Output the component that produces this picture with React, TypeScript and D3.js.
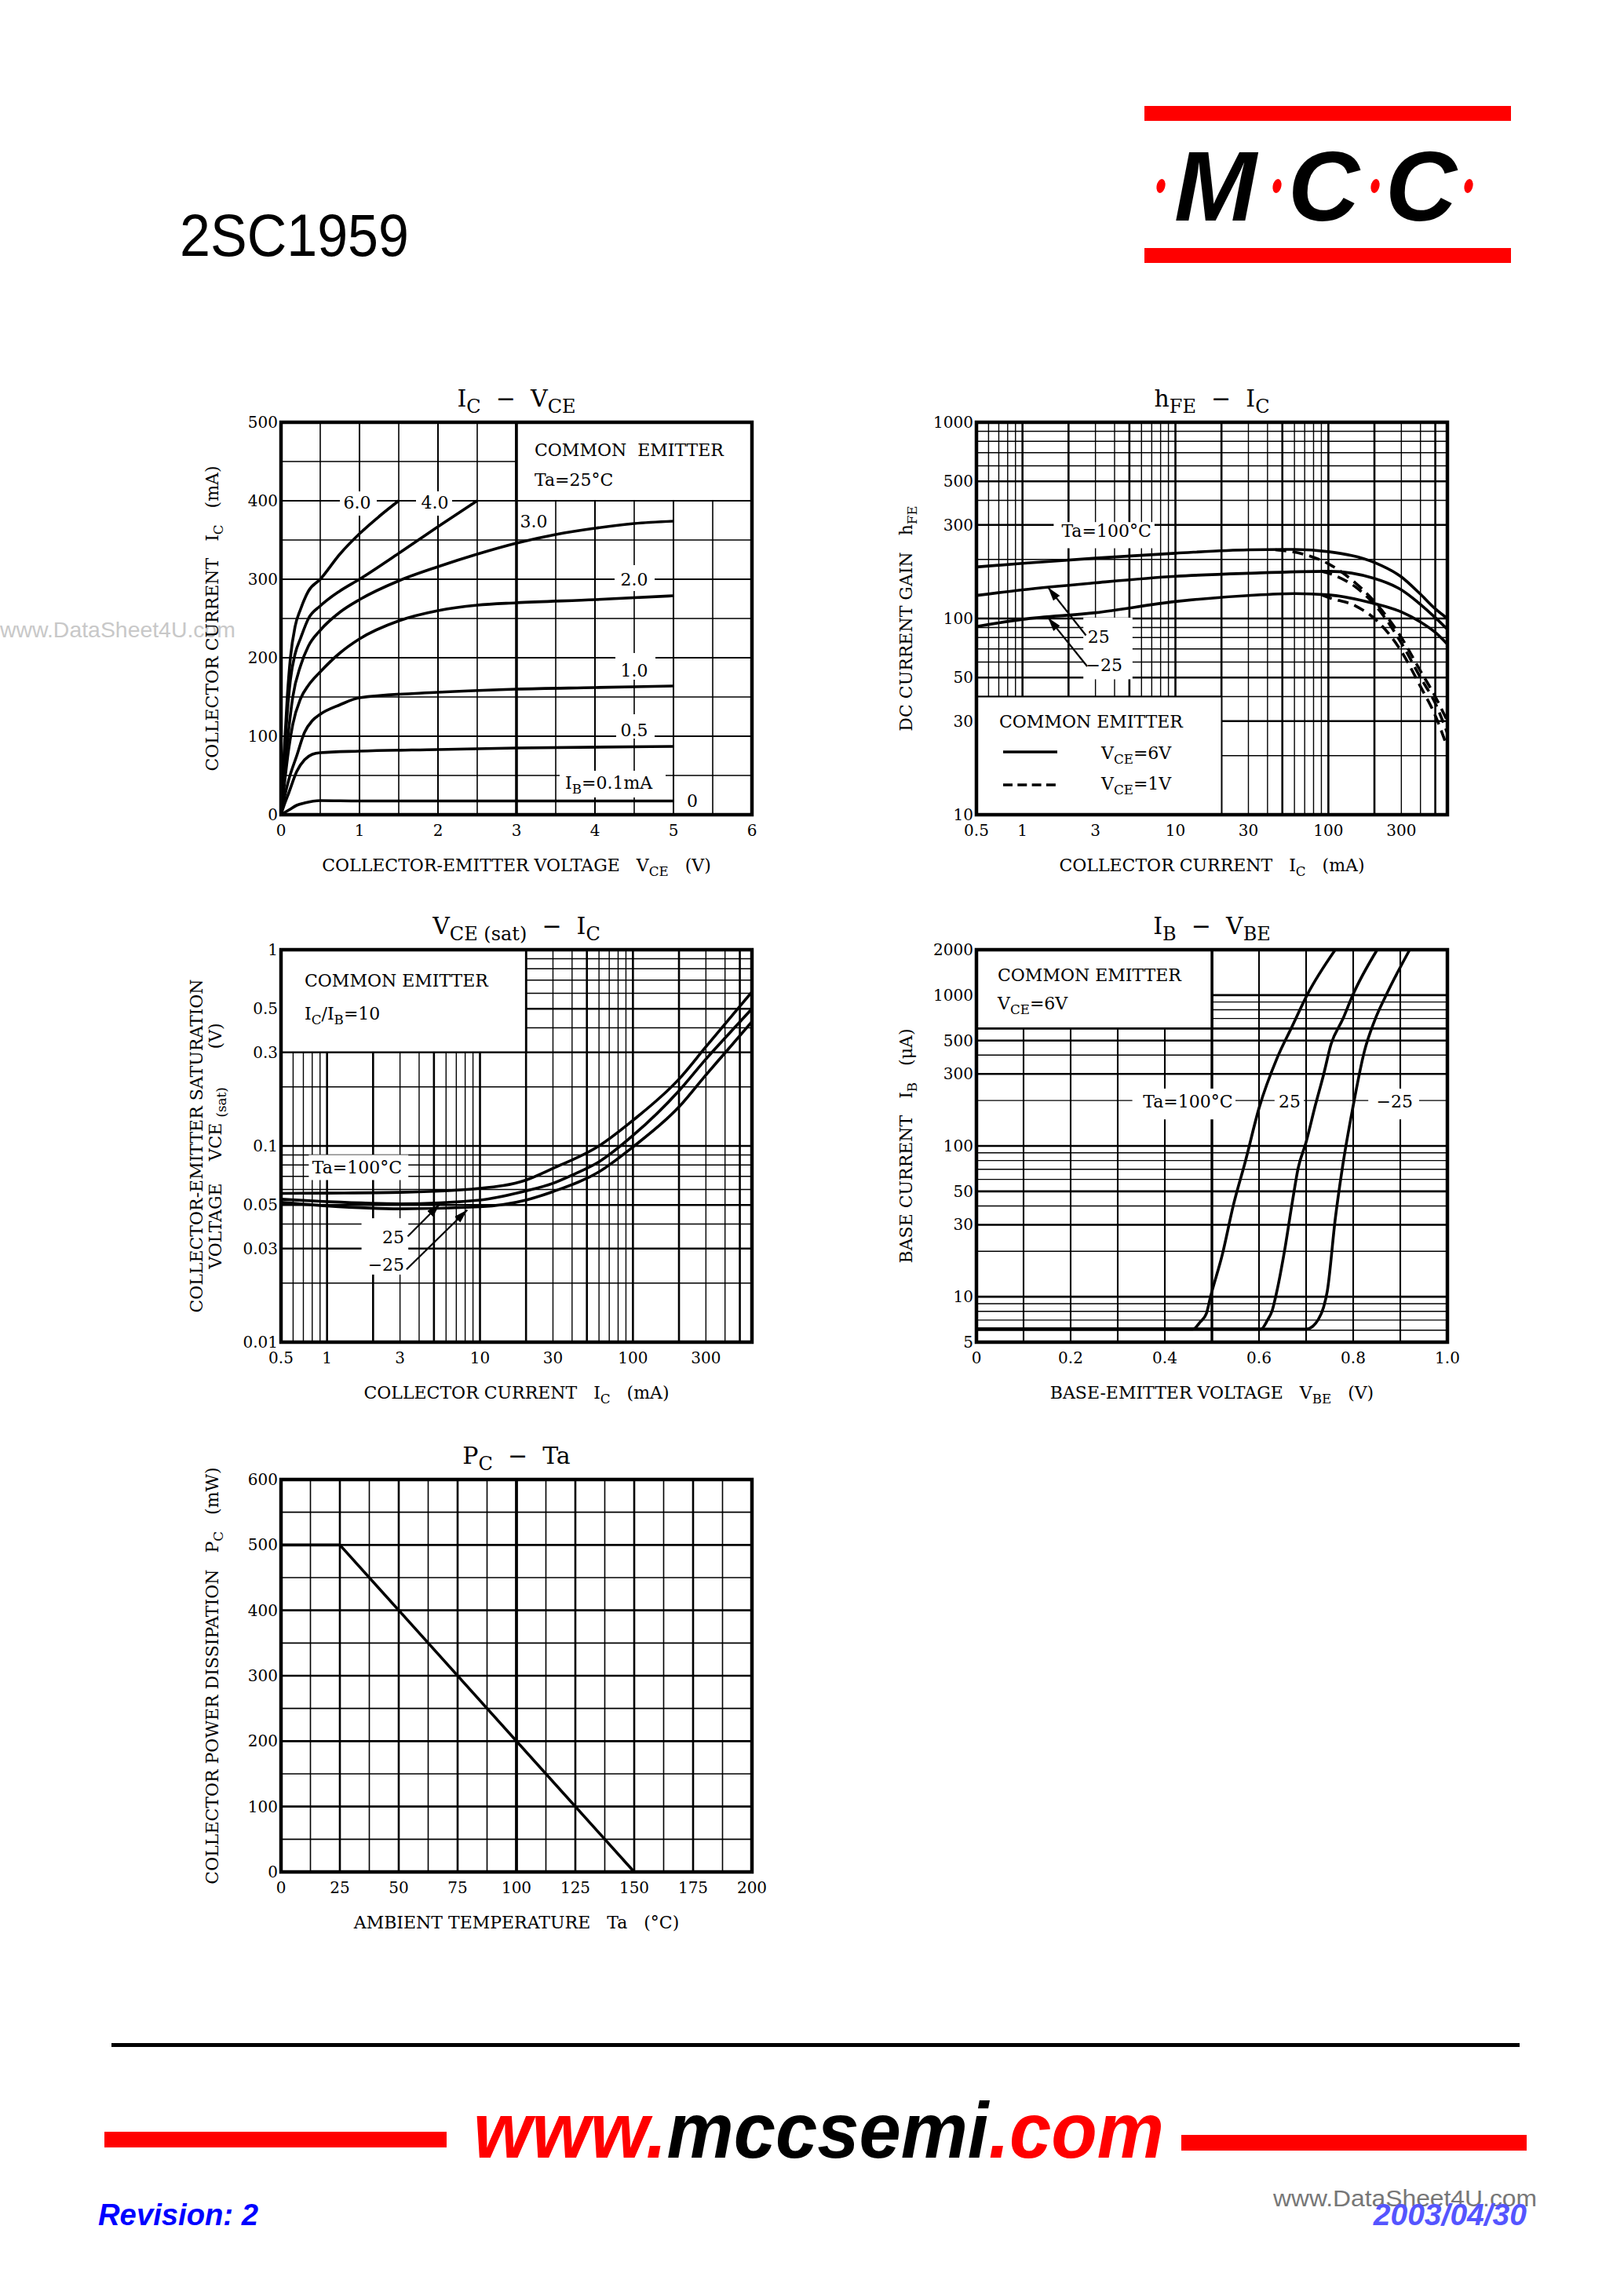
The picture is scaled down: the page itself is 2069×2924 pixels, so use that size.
import React from "react";
import * as d3 from "d3";

type Pt = [number, number];
type Seg = [string, boolean?];
type Line = { v: number; sw: number };
type Rect = { x: [number, number]; y: [number, number] };
type Edge = { x1: number; y1: number; x2: number; y2: number; sw: number };
type Note = { x: number; y: number; parts: Seg[]; anchor?: string };
type Arrow = { from: Pt; to: Pt };

const SERIF = "'DejaVu Serif', 'Liberation Serif', serif";
const SANS = "'Liberation Sans', Arial, sans-serif";
const PW = 600;
const PH = 500;

// ---------- IC - VCE (Ta = 25°C), one curve per IB ----------
const ic6_0: Pt[] = [[0, 0], [0.04, 80], [0.08, 150], [0.12, 200], [0.18, 240], [0.25, 262], [0.35, 285], [0.5, 300], [0.75, 332], [1, 358], [1.25, 380], [1.5, 400]];
const ic4_0: Pt[] = [[0, 0], [0.04, 70], [0.08, 130], [0.12, 172], [0.18, 205], [0.25, 225], [0.35, 250], [0.5, 266], [0.75, 285], [1, 300], [1.5, 333], [2, 367], [2.5, 400]];
const ic3_0: Pt[] = [[0, 0], [0.05, 60], [0.1, 110], [0.15, 150], [0.25, 190], [0.35, 215], [0.5, 235], [0.75, 258], [1, 274], [1.5, 298], [2, 316], [2.5, 332], [3, 346], [3.5, 357], [4, 365], [4.5, 371], [5, 374]];
const ic2_0: Pt[] = [[0, 0], [0.05, 45], [0.1, 85], [0.15, 115], [0.25, 148], [0.35, 165], [0.5, 182], [0.75, 206], [1, 224], [1.5, 247], [2, 260], [2.5, 267], [3, 270], [4, 274], [5, 279]];
const ic1_0: Pt[] = [[0, 0], [0.05, 25], [0.1, 45], [0.2, 75], [0.3, 105], [0.4, 120], [0.5, 128], [0.75, 140], [1, 149], [2, 156], [3, 160], [4, 162], [5, 164]];
const ic0_5: Pt[] = [[0, 0], [0.05, 15], [0.1, 28], [0.2, 55], [0.3, 70], [0.4, 77], [0.5, 79], [1, 81], [2, 83], [3, 85], [5, 87]];
const ic0_1: Pt[] = [[0, 0], [0.1, 6], [0.2, 12], [0.3, 15], [0.5, 18], [1, 17.5], [5, 17.5]];
const icVceCurves = [ic6_0, ic4_0, ic3_0, ic2_0, ic1_0, ic0_5, ic0_1];
const vceTicks = [0, 1, 2, 3, 4, 5, 6];
const icTicks = [0, 100, 200, 300, 400, 500];

// ---------- hFE - IC ----------
const hfe100_6V: Pt[] = [[0.5, 183], [1, 191], [3, 203], [10, 215], [30, 224], [60, 225], [100, 219], [200, 193], [300, 163], [400, 133], [500, 112], [600, 100]];
const hfe25_6V: Pt[] = [[0.5, 131], [1, 140], [3, 152], [10, 164], [30, 170], [100, 174], [200, 160], [300, 140], [400, 118], [500, 101], [600, 88]];
const hfeM25_6V: Pt[] = [[0.5, 91], [1, 99], [3, 107], [10, 122], [30, 131], [60, 134], [100, 132], [200, 119], [300, 108], [400, 96], [500, 85], [600, 74]];
const hfe100_1V: Pt[] = [[45, 224], [70, 212], [100, 190], [150, 152], [200, 122], [300, 80], [400, 54], [500, 40], [600, 30]];
const hfe25_1V: Pt[] = [[90, 174], [100, 170], [150, 145], [200, 118], [300, 75], [400, 50], [500, 37], [600, 26]];
const hfeM25_1V: Pt[] = [[90, 132], [100, 128], [150, 116], [200, 100], [300, 68], [400, 45], [500, 32], [600, 22]];
const icLogTicks = [0.5, 1, 3, 10, 30, 100, 300];
const hfeTicks = [10, 30, 50, 100, 300, 500, 1000];

// ---------- VCE(sat) - IC ----------
const sat100: Pt[] = [[0.5, 0.0573], [1, 0.0575], [3, 0.058], [10, 0.0608], [20, 0.067], [30, 0.0768], [60, 0.1], [100, 0.135], [200, 0.219], [300, 0.32], [400, 0.418], [600, 0.61]];
const sat25: Pt[] = [[0.5, 0.0535], [1, 0.052], [3, 0.0507], [10, 0.053], [20, 0.059], [30, 0.0645], [40, 0.071], [60, 0.083], [100, 0.113], [200, 0.191], [300, 0.277], [400, 0.355], [600, 0.5]];
const satM25: Pt[] = [[0.5, 0.0516], [1, 0.0495], [3, 0.0478], [10, 0.049], [20, 0.053], [30, 0.0585], [60, 0.0738], [100, 0.0988], [200, 0.158], [300, 0.23], [400, 0.298], [600, 0.43]];
const satTicks = [0.01, 0.03, 0.05, 0.1, 0.3, 0.5, 1];

// ---------- IB - VBE ----------
const ib100: Pt[] = [[0, 6.1], [0.46, 6.1], [0.475, 6.8], [0.488, 7.7], [0.497, 10], [0.522, 19], [0.546, 41], [0.571, 79], [0.6, 178], [0.638, 380], [0.67, 617], [0.702, 1000], [0.762, 2000]];
const ib25: Pt[] = [[0, 6.1], [0.604, 6.1], [0.618, 7], [0.628, 8.1], [0.638, 10.9], [0.654, 20], [0.671, 43], [0.683, 71], [0.7, 106], [0.72, 188], [0.737, 296], [0.753, 473], [0.778, 694], [0.799, 1000], [0.851, 2000]];
const ibM25: Pt[] = [[0, 6.1], [0.7, 6.1], [0.715, 6.4], [0.725, 7], [0.737, 8.5], [0.745, 10.9], [0.762, 33], [0.778, 75], [0.799, 178], [0.824, 427], [0.845, 672], [0.87, 1000], [0.92, 2000]];
const vbeTicks = [0, 0.2, 0.4, 0.6, 0.8, 1.0];
const ibTicks = [5, 10, 30, 50, 100, 300, 500, 1000, 2000];

// ---------- PC - Ta ----------
const pcDerating: Pt[] = [[0, 500], [25, 500], [150, 0]];
const taTicks = [0, 25, 50, 75, 100, 125, 150, 175, 200];
const pcTicks = [0, 100, 200, 300, 400, 500, 600];

// ---------- helpers ----------
function rich(parts: Seg[], size: number, ratio = 0.76) {
  let shift = 0;
  return parts.map(([t, sub], i) => {
    const target = sub ? size * 0.28 : 0;
    const dy = target - shift;
    shift = target;
    return (
      <tspan key={i} dy={dy} fontSize={sub ? size * ratio : size}>
        {t}
      </tspan>
    );
  });
}

function logLines(lo: number, hi: number, thick: number[]): Line[] {
  const out: Line[] = [];
  for (let e = Math.floor(Math.log10(lo)); e <= Math.ceil(Math.log10(hi)); e++) {
    for (let m = 1; m <= 9; m++) {
      const v = +(m * Math.pow(10, e)).toPrecision(6);
      if (v > lo * 1.0001 && v < hi * 0.9999) out.push({ v, sw: thick.includes(m) ? 2.6 : 1.4 });
    }
  }
  return out;
}

function toRect(xs: any, ys: any, r: Rect) {
  const xa = xs(r.x[0]), xb = xs(r.x[1]), ya = ys(r.y[0]), yb = ys(r.y[1]);
  return { x: Math.min(xa, xb), y: Math.min(ya, yb), width: Math.abs(xb - xa), height: Math.abs(yb - ya) };
}

function fmt(v: number) {
  return String(v);
}

type PlotProps = {
  x0: number;
  y0: number;
  xs: any;
  ys: any;
  xLines: Line[];
  yLines: Line[];
  boxes: Rect[];
  edges: Edge[];
  knock: Rect[];
  xTicks: number[];
  yTicks: number[];
  xLabel?: (v: number) => string;
  title: Seg[];
  xTitle: Seg[];
  yTitle: Seg[][];
  yTitleX: number[];
  notes: Note[];
  arrows?: Arrow[];
  children?: React.ReactNode;
};

function Plot(p: PlotProps) {
  const { xs, ys } = p;
  const xl = p.xLabel || fmt;
  return (
    <g transform={`translate(${p.x0},${p.y0})`} fontFamily={SERIF}>
      {p.xLines.map((l, i) => (
        <line key={"gx" + i} x1={xs(l.v)} x2={xs(l.v)} y1={0} y2={PH} stroke="#000" strokeWidth={l.sw} />
      ))}
      {p.yLines.map((l, i) => (
        <line key={"gy" + i} x1={0} x2={PW} y1={ys(l.v)} y2={ys(l.v)} stroke="#000" strokeWidth={l.sw} />
      ))}
      {p.boxes.map((b, i) => (
        <rect key={"bx" + i} {...toRect(xs, ys, b)} fill="#fff" />
      ))}
      {p.edges.map((e, i) => (
        <line key={"ed" + i} x1={xs(e.x1)} y1={ys(e.y1)} x2={xs(e.x2)} y2={ys(e.y2)} stroke="#000" strokeWidth={e.sw} />
      ))}
      {p.knock.map((b, i) => (
        <rect key={"ko" + i} {...toRect(xs, ys, b)} fill="#fff" />
      ))}
      {p.children}
      {(p.arrows || []).map((a, i) => (
        <line
          key={"ar" + i}
          x1={xs(a.from[0])}
          y1={ys(a.from[1])}
          x2={xs(a.to[0])}
          y2={ys(a.to[1])}
          stroke="#000"
          strokeWidth={2.2}
          markerEnd="url(#arrowHead)"
        />
      ))}
      {p.notes.map((n, i) => (
        <text
          key={"nt" + i}
          x={xs(n.x)}
          y={ys(n.y)}
          fontSize={22}
          textAnchor={n.anchor || "start"}
          style={{ whiteSpace: "pre" }}
        >
          {rich(n.parts, 22)}
        </text>
      ))}
      <rect x={0} y={0} width={PW} height={PH} fill="none" stroke="#000" strokeWidth={4.5} />
      {p.xTicks.map((v, i) => (
        <text key={"tx" + i} x={xs(v)} y={PH + 27} fontSize={20} textAnchor="middle">
          {xl(v)}
        </text>
      ))}
      {p.yTicks.map((v, i) => (
        <text key={"ty" + i} x={-4} y={ys(v) + 7} fontSize={20} textAnchor="end">
          {fmt(v)}
        </text>
      ))}
      <text x={PW / 2} y={-20} fontSize={30} textAnchor="middle" style={{ whiteSpace: "pre" }}>
        {rich(p.title, 30, 0.8)}
      </text>
      <text x={PW / 2} y={PH + 72} fontSize={22} textAnchor="middle" style={{ whiteSpace: "pre" }}>
        {rich(p.xTitle, 22)}
      </text>
      {p.yTitle.map((parts, i) => (
        <text
          key={"yt" + i}
          transform={`translate(${p.yTitleX[i]},${PH / 2}) rotate(-90)`}
          fontSize={22}
          textAnchor="middle"
          style={{ whiteSpace: "pre" }}
        >
          {rich(parts, 22)}
        </text>
      ))}
    </g>
  );
}

function Curves({ xs, ys, data, dash, curve }: { xs: any; ys: any; data: Pt[][]; dash?: string; curve?: any }) {
  const gen = d3
    .line<Pt>()
    .x((d) => xs(d[0]))
    .y((d) => ys(d[1]))
    .curve(curve || d3.curveMonotoneX);
  return (
    <g>
      {data.map((d, i) => (
        <path key={i} d={gen(d) || ""} fill="none" stroke="#000" strokeWidth={3.6} strokeDasharray={dash} strokeLinejoin="round" />
      ))}
    </g>
  );
}

// ---------- charts ----------
function IcVce() {
  const xs = d3.scaleLinear().domain([0, 6]).range([0, PW]);
  const ys = d3.scaleLinear().domain([0, 500]).range([PH, 0]);
  const xLines = d3.range(0.5, 6, 0.5).map((v) => ({ v, sw: v === 3 ? 3.6 : Number.isInteger(v) ? 2 : 1.6 }));
  const yLines = d3.range(50, 500, 50).map((v) => ({ v, sw: v % 100 === 0 ? 2 : 1.6 }));
  const notes: Note[] = [
    { x: 0.97, y: 390, parts: [["6.0"]], anchor: "middle" },
    { x: 1.96, y: 390, parts: [["4.0"]], anchor: "middle" },
    { x: 3.22, y: 366, parts: [["3.0"]], anchor: "middle" },
    { x: 4.5, y: 292, parts: [["2.0"]], anchor: "middle" },
    { x: 4.5, y: 176, parts: [["1.0"]], anchor: "middle" },
    { x: 4.5, y: 100, parts: [["0.5"]], anchor: "middle" },
    { x: 3.62, y: 33, parts: [["I"], ["B", true], ["=0.1mA"]] },
    { x: 5.24, y: 10, parts: [["0"]], anchor: "middle" },
    { x: 3.23, y: 457, parts: [["COMMON  EMITTER"]] },
    { x: 3.23, y: 419, parts: [["Ta=25°C"]] },
  ];
  return (
    <Plot
      x0={358}
      y0={538}
      xs={xs}
      ys={ys}
      xLines={xLines}
      yLines={yLines}
      boxes={[{ x: [3, 6], y: [400, 500] }]}
      edges={[
        { x1: 3, y1: 400, x2: 3, y2: 500, sw: 3.6 },
        { x1: 3, y1: 400, x2: 6, y2: 400, sw: 2 },
      ]}
      knock={[
        { x: [0.75, 1.22], y: [381, 412] },
        { x: [1.72, 2.18], y: [381, 412] },
        { x: [4.25, 4.76], y: [285, 318] },
        { x: [4.26, 4.77], y: [172, 206] },
        { x: [4.27, 4.76], y: [97, 128] },
        { x: [3.55, 4.9], y: [22, 56] },
      ]}
      xTicks={vceTicks}
      yTicks={icTicks}
      title={[["I"], ["C", true], ["  −  V"], ["CE", true]]}
      xTitle={[["COLLECTOR-EMITTER VOLTAGE   V"], ["CE", true], ["   (V)"]]}
      yTitle={[[["COLLECTOR CURRENT   I"], ["C", true], ["   (mA)"]]]}
      yTitleX={[-80]}
      notes={notes}
    >
      <Curves xs={xs} ys={ys} data={icVceCurves} />
    </Plot>
  );
}

function HfeIc() {
  const xs = d3.scaleLog().domain([0.5, 600]).range([0, PW]);
  const ys = d3.scaleLog().domain([10, 1000]).range([PH, 0]);
  const notes: Note[] = [
    { x: 1.8, y: 260, parts: [["Ta=100°C"]] },
    { x: 2.67, y: 75, parts: [["25"]] },
    { x: 2.6, y: 54, parts: [["−25"]] },
  ];
  return (
    <Plot
      x0={1244}
      y0={538}
      xs={xs}
      ys={ys}
      xLines={logLines(0.5, 600, [1, 2, 5])}
      yLines={logLines(10, 1000, [1, 3, 5])}
      boxes={[{ x: [0.5, 20], y: [10, 40] }]}
      edges={[
        { x1: 0.5, y1: 40, x2: 20, y2: 40, sw: 2.2 },
        { x1: 20, y1: 10, x2: 20, y2: 40, sw: 1.4 },
      ]}
      knock={[
        { x: [1.6, 7.3], y: [228, 310] },
        { x: [2.5, 5.24], y: [49, 101] },
      ]}
      xTicks={icLogTicks}
      yTicks={hfeTicks}
      title={[["h"], ["FE", true], ["  −  I"], ["C", true]]}
      xTitle={[["COLLECTOR CURRENT   I"], ["C", true], ["   (mA)"]]}
      yTitle={[[["DC CURRENT GAIN   h"], ["FE", true]]]}
      yTitleX={[-82]}
      notes={notes}
      arrows={[
        { from: [2.6, 82], to: [1.47, 144] },
        { from: [2.65, 57], to: [1.47, 101] },
      ]}
    >
      <Curves xs={xs} ys={ys} data={[hfe100_6V, hfe25_6V, hfeM25_6V]} />
      <Curves xs={xs} ys={ys} data={[hfe100_1V, hfe25_1V, hfeM25_1V]} dash="14 8" />
      <g fontSize={22} style={{ whiteSpace: "pre" }}>
        <text x={29} y={389}>COMMON  EMITTER</text>
        <line x1={34} x2={103} y1={420} y2={420} stroke="#000" strokeWidth={3.6} />
        <text x={159} y={429}>{rich([["V"], ["CE", true], ["=6V"]], 22)}</text>
        <line x1={34} x2={101} y1={462} y2={462} stroke="#000" strokeWidth={3.6} strokeDasharray="12 6.3" />
        <text x={159} y={468}>{rich([["V"], ["CE", true], ["=1V"]], 22)}</text>
      </g>
    </Plot>
  );
}

function VceSat() {
  const xs = d3.scaleLog().domain([0.5, 600]).range([0, PW]);
  const ys = d3.scaleLog().domain([0.01, 1]).range([PH, 0]);
  const notes: Note[] = [
    { x: 0.8, y: 0.0724, parts: [["Ta=100°C"]] },
    { x: 3.2, y: 0.032, parts: [["25"]], anchor: "end" },
    { x: 3.2, y: 0.0232, parts: [["−25"]], anchor: "end" },
  ];
  return (
    <Plot
      x0={358}
      y0={1210}
      xs={xs}
      ys={ys}
      xLines={logLines(0.5, 600, [1, 2, 5])}
      yLines={logLines(0.01, 1, [1, 3, 5])}
      boxes={[{ x: [0.5, 20], y: [0.3, 1] }]}
      edges={[
        { x1: 0.5, y1: 0.3, x2: 20, y2: 0.3, sw: 2.6 },
        { x1: 20, y1: 0.3, x2: 20, y2: 1, sw: 2.6 },
      ]}
      knock={[
        { x: [0.76, 3.4], y: [0.067, 0.09] },
        { x: [1.68, 3.4], y: [0.0221, 0.0428] },
      ]}
      xTicks={icLogTicks}
      yTicks={satTicks}
      title={[["V"], ["CE (sat)", true], ["  −  I"], ["C", true]]}
      xTitle={[["COLLECTOR CURRENT   I"], ["C", true], ["   (mA)"]]}
      yTitle={[
        [["COLLECTOR-EMITTER SATURATION"]],
        [["VOLTAGE    VCE "], ["(sat)", true], ["       (V)"]],
      ]}
      yTitleX={[-100, -76]}
      notes={notes}
      arrows={[
        { from: [3.37, 0.0346], to: [5.46, 0.0505] },
        { from: [3.31, 0.0235], to: [8.26, 0.0472] },
      ]}
    >
      <Curves xs={xs} ys={ys} data={[sat100, sat25, satM25]} />
      <g fontSize={22} style={{ whiteSpace: "pre" }}>
        <text x={30} y={47}>COMMON  EMITTER</text>
        <text x={30} y={89}>{rich([["I"], ["C", true], ["/I"], ["B", true], ["=10"]], 22)}</text>
      </g>
    </Plot>
  );
}

function IbVbe() {
  const xs = d3.scaleLinear().domain([0, 1]).range([0, PW]);
  const ys = d3.scaleLog().domain([5, 2000]).range([PH, 0]);
  const xLines = d3.range(1, 10).map((i) => ({ v: i / 10, sw: i === 5 ? 3.4 : 2.1 }));
  const notes: Note[] = [
    { x: 0.449, y: 179, parts: [["Ta=100°C"]], anchor: "middle" },
    { x: 0.665, y: 179, parts: [["25"]], anchor: "middle" },
    { x: 0.888, y: 179, parts: [["−25"]], anchor: "middle" },
  ];
  return (
    <Plot
      x0={1244}
      y0={1210}
      xs={xs}
      ys={ys}
      xLines={xLines}
      yLines={logLines(5, 2000, [1, 3, 5])}
      boxes={[{ x: [0, 0.5], y: [600, 2000] }]}
      edges={[
        { x1: 0, y1: 600, x2: 1, y2: 600, sw: 2.8 },
        { x1: 0.5, y1: 600, x2: 0.5, y2: 2000, sw: 3.4 },
      ]}
      knock={[
        { x: [0.331, 0.55], y: [150, 240] },
        { x: [0.633, 0.695], y: [150, 240] },
        { x: [0.832, 0.94], y: [150, 240] },
      ]}
      xTicks={vbeTicks}
      yTicks={ibTicks}
      xLabel={(v) => (v === 0 ? "0" : v.toFixed(1))}
      title={[["I"], ["B", true], ["  −  V"], ["BE", true]]}
      xTitle={[["BASE-EMITTER VOLTAGE   V"], ["BE", true], ["   (V)"]]}
      yTitle={[[["BASE CURRENT   I"], ["B", true], ["   (μA)"]]]}
      yTitleX={[-82]}
      notes={notes}
    >
      <Curves xs={xs} ys={ys} data={[ib100, ib25, ibM25]} />
      <g fontSize={22} style={{ whiteSpace: "pre" }}>
        <text x={27} y={40}>COMMON  EMITTER</text>
        <text x={27} y={76}>{rich([["V"], ["CE", true], ["=6V"]], 22)}</text>
      </g>
    </Plot>
  );
}

function PcTa() {
  const xs = d3.scaleLinear().domain([0, 200]).range([0, PW]);
  const ys = d3.scaleLinear().domain([0, 600]).range([PH, 0]);
  const xLines = d3.range(12.5, 200, 12.5).map((v) => ({ v, sw: v === 100 ? 3.8 : v % 25 === 0 ? 2.6 : 1.6 }));
  const yLines = d3.range(50, 600, 50).map((v) => ({ v, sw: v % 100 === 0 ? 2.6 : 1.6 }));
  return (
    <Plot
      x0={358}
      y0={1885}
      xs={xs}
      ys={ys}
      xLines={xLines}
      yLines={yLines}
      boxes={[]}
      edges={[]}
      knock={[]}
      xTicks={taTicks}
      yTicks={pcTicks}
      title={[["P"], ["C", true], ["  −  Ta"]]}
      xTitle={[["AMBIENT TEMPERATURE   Ta   (°C)"]]}
      yTitle={[[["COLLECTOR POWER DISSIPATION   P"], ["C", true], ["   (mW)"]]]}
      yTitleX={[-80]}
      notes={[]}
    >
      <Curves xs={xs} ys={ys} data={[pcDerating]} curve={d3.curveLinear} />
    </Plot>
  );
}

function Header() {
  const skew = Math.tan((8 * Math.PI) / 180);
  return (
    <g>
      <text x={229} y={326} fontFamily={SANS} fontSize={76} textLength={292} lengthAdjust="spacingAndGlyphs">
        2SC1959
      </text>
      <rect x={1458} y={135} width={467} height={19} fill="#ff0000" />
      <rect x={1458} y={316} width={467} height={19} fill="#ff0000" />
      <g fontFamily={SANS} fontSize={126} fontWeight="bold" fontStyle="italic">
        <text x={1496} y={281}>M</text>
        <text x={1641} y={281}>C</text>
        <text x={1765} y={281}>C</text>
      </g>
      {[1479, 1627, 1752, 1871].map((cx) => (
        <ellipse key={cx} cx={cx} cy={237} rx={5.5} ry={9} fill="#ff0000" transform={`translate(${237 * skew},0) skewX(-8)`} />
      ))}
    </g>
  );
}

function Footer() {
  return (
    <g fontFamily={SANS}>
      <rect x={142} y={2603} width={1794} height={5} fill="#000" />
      <rect x={133} y={2716} width={436} height={20} fill="#ff0000" />
      <rect x={1505} y={2720} width={440} height={20} fill="#ff0000" />
      <text x={603} y={2749} fontSize={100} fontWeight="bold" fontStyle="italic" textLength={880} lengthAdjust="spacingAndGlyphs">
        <tspan fill="#ff0000">www.</tspan>
        <tspan fill="#000">mccsemi</tspan>
        <tspan fill="#ff0000">.com</tspan>
      </text>
      <text x={1622} y={2811} fontSize={30} fill="#777" textLength={336} lengthAdjust="spacingAndGlyphs">
        www.DataSheet4U.com
      </text>
      <text x={125} y={2835} fontSize={39} fontWeight="bold" fontStyle="italic" fill="#0000ff" textLength={204} lengthAdjust="spacingAndGlyphs">
        Revision: 2
      </text>
      <text x={1945} y={2835} fontSize={39} fontWeight="bold" fontStyle="italic" fill="#5555ff" textAnchor="end">
        2003/04/30
      </text>
    </g>
  );
}

export default function App() {
  return (
    <div style={{ position: "absolute", left: 0, top: 0 }}>
      <svg width={2069} height={2924} viewBox="0 0 2069 2924" style={{ display: "block", background: "#fff" }}>
        <defs>
          <marker id="arrowHead" viewBox="0 0 10 6" refX={10} refY={3} markerWidth={8} markerHeight={4.8} orient="auto">
            <path d="M0,0 L10,3 L0,6 z" fill="#000" />
          </marker>
        </defs>
        <rect x={0} y={0} width={2069} height={2924} fill="#fff" />
        <text x={0} y={812} fontFamily={SANS} fontSize={28} fill="#c8c8c8" textLength={300} lengthAdjust="spacingAndGlyphs">
          www.DataSheet4U.com
        </text>
        <Header />
        <IcVce />
        <HfeIc />
        <VceSat />
        <IbVbe />
        <PcTa />
        <Footer />
      </svg>
    </div>
  );
}
